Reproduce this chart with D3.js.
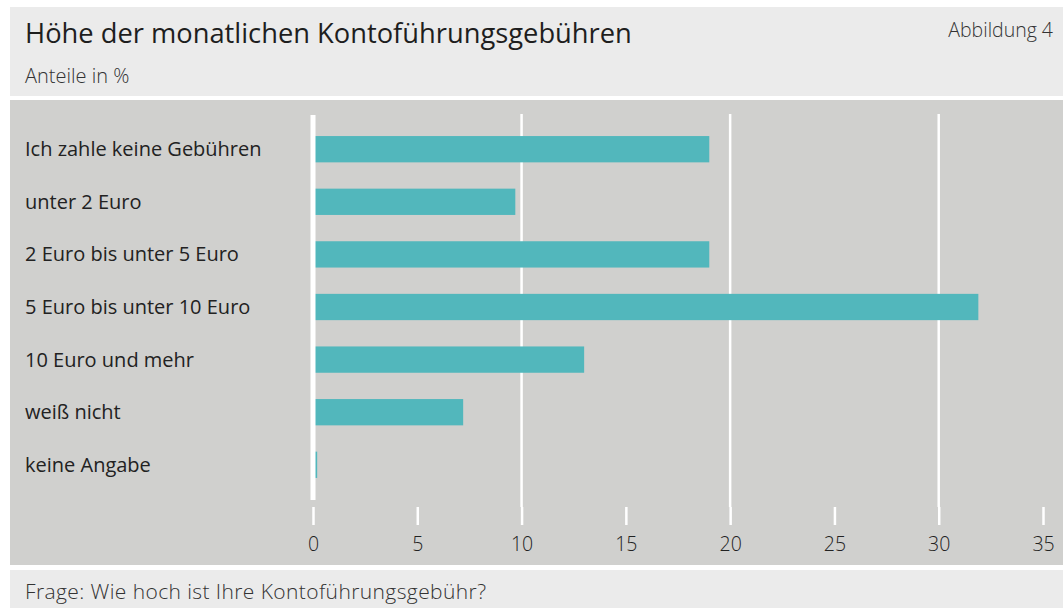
<!DOCTYPE html>
<html>
<head>
<meta charset="utf-8">
<script src="https://cdn.jsdelivr.net/npm/d3@7"></script>
<style>
  body { margin: 0; background: #fff; }
  text { font-family: "Open Sans", "Noto Sans", sans-serif; }
</style>
</head>
<body>
<div id="chart"></div>
<script>
// Chart values
var categories = [
    "Ich zahle keine Gebühren",
    "unter 2 Euro",
    "2 Euro bis unter 5 Euro",
    "5 Euro bis unter 10 Euro",
    "10 Euro und mehr",
    "weiß nicht",
    "keine Angabe"
];
var shares = [19, 9.7, 19, 31.9, 13, 7.2, 0.2];
var tickValues = [0, 5, 10, 15, 20, 25, 30, 35];
var gridValues = [10, 20, 30];

var width = 1063, height = 608;

var svg = d3.select("#chart")
    .append("svg")
    .attr("width", width)
    .attr("height", height);

// Panels
svg.append("rect").attr("x", 10).attr("y", 7).attr("width", width - 10).attr("height", 89).attr("fill", "#ebebeb");
svg.append("rect").attr("x", 10).attr("y", 100).attr("width", width - 10).attr("height", 465).attr("fill", "#d0d0ce");
svg.append("rect").attr("x", 10).attr("y", 570).attr("width", width - 10).attr("height", 38).attr("fill", "#ebebeb");

// Header texts
svg.append("text").attr("x", 25).attr("y", 43)
    .attr("font-size", 27.3).attr("fill", "#1e1e1e")
    .text("Höhe der monatlichen Kontoführungsgebühren");
svg.append("text").attr("x", 25).attr("y", 83)
    .attr("font-size", 20).attr("font-weight", 300).attr("fill", "#333")
    .text("Anteile in %");
svg.append("text").attr("x", 1053).attr("y", 37)
    .attr("text-anchor", "end")
    .attr("font-size", 19.5).attr("font-weight", 300).attr("fill", "#333")
    .text("Abbildung 4");
svg.append("text").attr("x", 25).attr("y", 599)
    .attr("font-size", 21).attr("font-weight", 300).attr("fill", "#333")
    .attr("textLength", 461).attr("lengthAdjust", "spacing")
    .text("Frage: Wie hoch ist Ihre Kontoführungsgebühr?");

// Scales
var x = d3.scaleLinear().domain([0, 35]).range([313, 1043]);
var y = d3.scaleBand().domain(categories).range([122.9, 491.1])
    .paddingInner(0.5).paddingOuter(0.25);

// Gridlines
svg.append("g").selectAll("line")
    .data(gridValues)
    .join("line")
    .attr("x1", d => x(d)).attr("x2", d => x(d))
    .attr("y1", 114).attr("y2", 507)
    .attr("stroke", "#fff").attr("stroke-width", 2.5);

// Axis with ticks and labels
var bottomAxis = d3.axisBottom(x)
    .tickValues(tickValues)
    .tickSize(18)
    .tickPadding(12)
    .tickFormat(d3.format("d"));

var xAxis = svg.append("g")
    .attr("transform", "translate(0, 507)")
    .call(bottomAxis);
xAxis.select(".domain").remove();
xAxis.selectAll(".tick line").attr("stroke", "#fff").attr("stroke-width", 2.5);
xAxis.selectAll(".tick text")
    .attr("font-size", 19.5).attr("font-weight", 300).attr("fill", "#222")
    .attr("font-family", "'Open Sans', 'Noto Sans', sans-serif");

// Bars
svg.append("g").selectAll("rect")
    .data(shares)
    .join("rect")
    .attr("x", x(0))
    .attr("y", (d, i) => y(categories[i]))
    .attr("width", d => x(d) - x(0))
    .attr("height", y.bandwidth())
    .attr("fill", "#52b7bc");

// Zero line
svg.append("line")
    .attr("x1", x(0)).attr("x2", x(0))
    .attr("y1", 115).attr("y2", 500)
    .attr("stroke", "#fff").attr("stroke-width", 5);

// Category labels
svg.append("g").selectAll("text")
    .data(categories)
    .join("text")
    .attr("x", 25)
    .attr("y", d => y(d) + y.bandwidth() / 2)
    .attr("dy", "0.35em")
    .attr("font-size", 20).attr("font-weight", 500).attr("fill", "#222")
    .text(d => d);
</script>
</body>
</html>
